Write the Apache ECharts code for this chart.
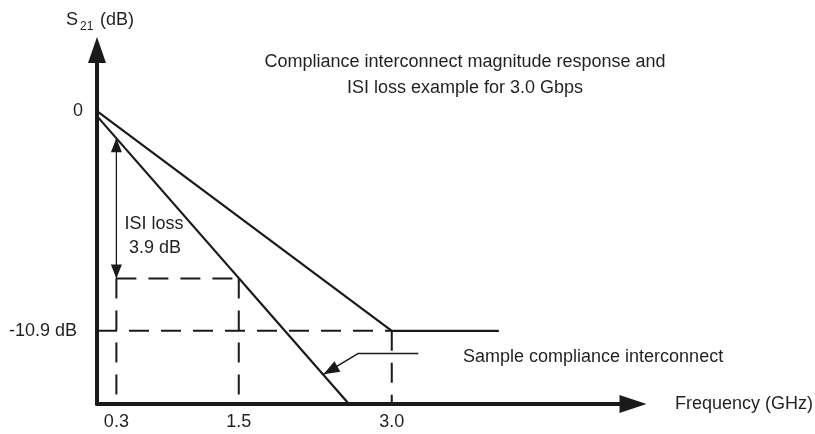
<!DOCTYPE html>
<html>
<head>
<meta charset="utf-8">
<script src="https://cdn.jsdelivr.net/npm/echarts@6/dist/echarts.min.js"></script>
<style>
html,body{margin:0;padding:0;background:#fff;}
#chart{width:815px;height:434px;}
</style>
</head>
<body>
<div id="chart"></div>
<script>
// ---- data (GHz, dB) ----
const xTickValues = [0.3, 1.5, 3.0];
const xTickLabels = ['0.3', '1.5', '3.0'];
const yTickValues = [0, -10.9];
const yTickLabels = ['0', '-10.9 dB'];

const complianceFreq = [0.11, 3.0, 4.05];
const complianceDb   = [0, -10.9, -10.9];

const sampleFreq = [0.11, 2.58];
const sampleDb   = [-0.25, -14.53];

const isiFreqLow  = 0.3;
const isiFreqHigh = 1.5;
const isiTopDb    = -1.35;
const isiLevelDb  = -8.3;
const limitFreq   = 3.0;
const limitDb     = -10.9;

const xMin = 0.11, xMax = 5.365;
const yMin = -14.53, yMax = 3.03;

const pointerFreq = [3.26, 2.672, 2.33];
const pointerDb   = [-12.02, -12.02, -13.06];

// ---- helpers ----
const zip = (a, b) => a.map((v, i) => [v, b[i]]);
const INK = '#1a1a1a';
const TXT = '#231f20';
const FONT = '"Liberation Sans", Arial, Helvetica, sans-serif';

const dashedSegments = [
  [[xMin, limitDb], [limitFreq, limitDb]],
  [[limitFreq, limitDb], [limitFreq, yMin]],
  [[isiFreqLow, isiLevelDb], [isiFreqHigh, isiLevelDb]],
  [[isiFreqLow, isiLevelDb], [isiFreqLow, yMin]],
  [[isiFreqHigh, isiLevelDb], [isiFreqHigh, yMin]]
];

const series = [];
series.push({
  type: 'line', name: 'Compliance interconnect',
  data: zip(complianceFreq, complianceDb),
  showSymbol: false, symbol: 'none', silent: true, z: 3,
  lineStyle: { color: INK, width: 2.2 }
});
series.push({
  type: 'line', name: 'Sample compliance interconnect',
  data: zip(sampleFreq, sampleDb),
  showSymbol: false, symbol: 'none', silent: true, z: 3,
  lineStyle: { color: INK, width: 2.2 }
});
dashedSegments.forEach(seg => series.push({
  type: 'line', data: seg, showSymbol: false, symbol: 'none', silent: true, z: 2,
  lineStyle: { color: INK, width: 2, type: [20, 12] }
}));
// ISI loss double arrow shaft
series.push({
  type: 'line', data: [[isiFreqLow, isiTopDb], [isiFreqLow, isiLevelDb]],
  showSymbol: false, symbol: 'none', silent: true, z: 3,
  lineStyle: { color: INK, width: 1.3 }
});
// pointer to sample line
series.push({
  type: 'line', data: zip(pointerFreq, pointerDb),
  showSymbol: false, symbol: 'none', silent: true, z: 3,
  lineStyle: { color: INK, width: 1.5 }
});
// arrow heads
series.push({
  type: 'scatter', silent: true, z: 4,
  symbol: 'triangle',
  itemStyle: { color: INK, opacity: 1 },
  data: [
    { value: [isiFreqLow, isiTopDb], symbolSize: [11, 14], symbolRotate: 0, symbolOffset: [0, 7] },
    { value: [isiFreqLow, isiLevelDb], symbolSize: [11, 14], symbolRotate: 180, symbolOffset: [0, -7] },
    { value: [pointerFreq[2], pointerDb[2]], symbolSize: [12, 16], symbolRotate: 119.6, symbolOffset: [7, -4] }
  ]
});

const chart = echarts.init(document.getElementById('chart'), null, { renderer: 'canvas' });
chart.setOption({
  animation: false,
  backgroundColor: '#ffffff',
  textStyle: { fontFamily: FONT, color: TXT },
  title: {
    text: 'Compliance interconnect magnitude response and\nISI loss example for 3.0 Gbps',
    left: 465, top: 49, textAlign: 'center', padding: 0,
    textStyle: { fontSize: 18, fontWeight: 'normal', color: TXT, lineHeight: 26, fontFamily: FONT }
  },
  grid: { left: 97, right: 182, top: 50, bottom: 30, containLabel: false, outerBoundsMode: 'none' },
  xAxis: {
    type: 'value', min: xMin, max: xMax,
    name: 'Frequency (GHz)', nameLocation: 'end', nameGap: 42,
    nameTextStyle: { fontSize: 18, color: TXT, fontFamily: FONT, padding: [5, 0, 0, 0] },
    axisLine: { onZero: false, symbol: ['none', 'triangle'], symbolSize: [18, 27], lineStyle: { color: INK, width: 4 } },
    axisTick: { show: false },
    splitLine: { show: false },
    axisLabel: {
      customValues: xTickValues, margin: 9, fontSize: 18, color: TXT, fontFamily: FONT,
      formatter: v => { const i = xTickValues.findIndex(t => Math.abs(t - v) < 1e-6); return i >= 0 ? xTickLabels[i] : ''; }
    }
  },
  yAxis: {
    type: 'value', min: yMin, max: yMax,
    axisLine: { onZero: false, symbol: ['none', 'triangle'], symbolSize: [18, 26], lineStyle: { color: INK, width: 4 } },
    axisTick: { show: false },
    splitLine: { show: false },
    axisLabel: {
      customValues: yTickValues, margin: 14, fontSize: 18, color: TXT, fontFamily: FONT,
      formatter: v => { const i = yTickValues.findIndex(t => Math.abs(t - v) < 1e-6); if (i < 0) return ''; return i === 0 ? '{a|' + yTickLabels[i] + '}' : '{b|' + yTickLabels[i] + '}'; },
      rich: {
        a: { fontSize: 18, color: TXT, fontFamily: FONT },
        b: { fontSize: 18, color: TXT, fontFamily: FONT, padding: [0, 6, 0, 0] }
      }
    }
  },
  graphic: [
    { type: 'text', x: 66, y: 20, silent: true, style: { text: 'S', font: '18px ' + FONT, fill: TXT, textAlign: 'left', textVerticalAlign: 'middle', align: 'left', verticalAlign: 'middle' } },
    { type: 'text', x: 80, y: 27, silent: true, style: { text: '21', font: '12px ' + FONT, fill: TXT, textAlign: 'left', textVerticalAlign: 'middle', align: 'left', verticalAlign: 'middle' } },
    { type: 'text', x: 100, y: 20, silent: true, style: { text: '(dB)', font: '18px ' + FONT, fill: TXT, textAlign: 'left', textVerticalAlign: 'middle', align: 'left', verticalAlign: 'middle' } },
    { type: 'text', x: 154, y: 224, silent: true, style: { text: 'ISI loss', font: '18px ' + FONT, fill: TXT, textAlign: 'center', textVerticalAlign: 'middle', align: 'center', verticalAlign: 'middle' } },
    { type: 'text', x: 155, y: 248, silent: true, style: { text: '3.9 dB', font: '18px ' + FONT, fill: TXT, textAlign: 'center', textVerticalAlign: 'middle', align: 'center', verticalAlign: 'middle' } },
    { type: 'text', x: 463, y: 357, silent: true, style: { text: 'Sample compliance interconnect', font: '18px ' + FONT, fill: TXT, textAlign: 'left', textVerticalAlign: 'middle', align: 'left', verticalAlign: 'middle' } }
  ],
  series: series
});
</script>
</body>
</html>
